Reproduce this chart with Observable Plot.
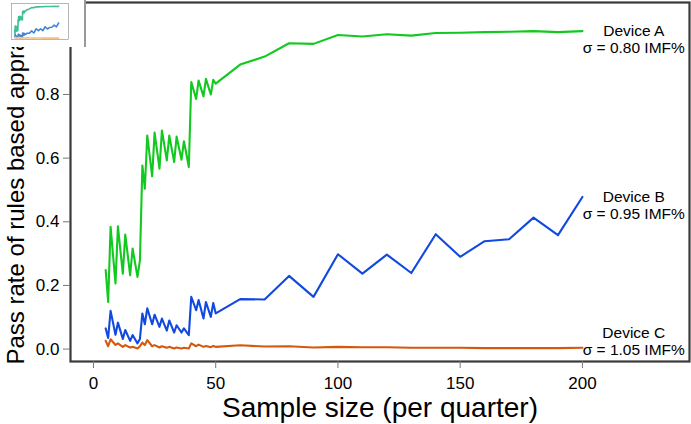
<!DOCTYPE html>
<html><head><meta charset="utf-8">
<script src="https://cdn.jsdelivr.net/npm/d3@7"></script>
<script src="https://cdn.jsdelivr.net/npm/@observablehq/plot@0.6"></script>
<style>
body{margin:0;background:#fff;}
#wrap{position:relative;width:691px;height:424px;overflow:hidden;}
#inset{position:absolute;left:0;top:0;width:86px;height:47px;background:#fff;border-right:2px solid #999;box-sizing:border-box;}
</style></head><body><div id="wrap"><div id="main"></div><div id="inset"></div></div>
<script>
const sampleSizes = [5,6,7,9,10,12,13,15,16,18,19,20,21,22,24,25,27,28,30,31,33,34,36,37,39,40,42,43,45,46,48,49,50,60,70,80,90,100,110,120,130,140,150,160,170,180,190,200];
const deviceA = [0.248,0.148,0.384,0.206,0.386,0.237,0.360,0.232,0.316,0.227,0.279,
  0.577,0.504,0.671,0.543,0.680,0.567,0.687,0.593,0.671,0.588,0.668,0.595,0.653,0.572,
  0.839,0.786,0.844,0.794,0.849,0.800,0.846,0.834,
  0.894,0.919,0.961,0.959,0.987,0.982,0.989,0.985,0.993,0.994,0.996,0.997,0.999,0.996,0.999];
const deviceB = [0.065,0.035,0.120,0.045,0.083,0.032,0.060,0.026,0.044,0.018,0.032,
  0.112,0.078,0.128,0.078,0.108,0.070,0.096,0.058,0.090,0.052,0.075,0.052,0.065,0.044,
  0.164,0.122,0.154,0.096,0.148,0.101,0.145,0.112,
  0.157,0.156,0.230,0.164,0.298,0.237,0.297,0.239,0.361,0.290,0.339,0.345,0.413,0.358,0.478];
const deviceC = [0.026,0.009,0.031,0.013,0.018,0.007,0.0125,0.005,0.007,0.002,0.009,
  0.020,0.0125,0.028,0.009,0.0125,0.005,0.009,0.004,0.007,0.002,0.005,0.002,0.004,0.002,
  0.018,0.009,0.014,0.007,0.010,0.006,0.010,0.007,
  0.012,0.008,0.009,0.005,0.007,0.006,0.006,0.004,0.004,0.004,0.003,0.003,0.003,0.003,0.004];
const deviceNames = ["Device A","Device B","Device C"];
const sigmaLabels = ["σ = 0.80 IMF%","σ = 0.95 IMF%","σ = 1.05 IMF%"];
const xTicks = [0,50,100,150,200];
const yTicks = [0,0.2,0.4,0.6,0.8];
const xTitle = "Sample size (per quarter)";
const yTitle = "Pass rate of rules based appraisal";

const series = [deviceA, deviceB, deviceC];
const colors = ["#12c91f","#1149e0","#d4580e"];
const xDomain = [-9.4, 243.8];
const yDomain = [-0.039, 1.089];
const rows = series.flatMap((vals, k) => sampleSizes.map((n, i) => ({n, v: vals[i], dev: deviceNames[k]})));
const labelRows = deviceNames.map((d, k) => ({dev: d, n: 221, v: series[k][series[k].length - 1], text: d + "\n" + sigmaLabels[k]}));
const labelDy = {"Device A": 8, "Device B": 8, "Device C": -6.5};
const font = '"Liberation Sans", Arial, Helvetica, sans-serif';

const main = Plot.plot({
  width: 691, height: 424,
  marginLeft: 70, marginRight: 2, marginTop: 2, marginBottom: 63,
  style: {fontFamily: font, background: "white", color: "#000"},
  x: {domain: xDomain},
  y: {domain: yDomain},
  color: {domain: deviceNames, range: colors},
  marks: [
    Plot.frame({stroke: "#3a3a3a", strokeWidth: 2.2}),
    Plot.axisX({ticks: xTicks, tickSize: 7, tickPadding: 8, fontSize: 17, label: null, stroke: "#777"}),
    Plot.axisY({ticks: yTicks, tickSize: 7, tickPadding: 4, fontSize: 17, label: null, stroke: "#777", tickFormat: d3.format(".1f")}),
    Plot.line(rows, {x: "n", y: "v", z: "dev", stroke: "dev", strokeWidth: 2.1, strokeLinejoin: "round"}),
    ...deviceNames.map(d => Plot.text(labelRows.filter(r => r.dev === d), {x: "n", y: "v", text: "text", fontSize: 15.5, lineHeight: 1.07, textAnchor: "middle", dy: labelDy[d], fill: "#000"})),
    Plot.text([xTitle], {frameAnchor: "bottom", dy: 55, fontSize: 28, fill: "#000", text: d => d}),
    Plot.text([yTitle], {frameAnchor: "bottom-left", rotate: -90, textAnchor: "start", dx: -47, dy: 3, fontSize: 24, fill: "#000", text: d => d})
  ]
});
document.getElementById("main").appendChild(main);

// small thumbnail in the top-left corner
const inset = Plot.plot({
  width: 84, height: 47,
  marginLeft: 11, marginRight: 16, marginTop: 3, marginBottom: 8,
  style: {fontFamily: font, background: "white", overflow: "hidden"},
  x: {domain: xDomain, axis: null},
  y: {domain: yDomain, axis: null},
  color: {domain: deviceNames, range: ["#3fbf93","#3f86d6","#f2c184"]},
  marks: [
    Plot.line(rows, {x: "n", y: "v", z: "dev", stroke: "dev", strokeWidth: 1.6}),
    Plot.frame({stroke: "#888", strokeWidth: 0.6})
  ]
});
document.getElementById("inset").appendChild(inset);
</script></body></html>
